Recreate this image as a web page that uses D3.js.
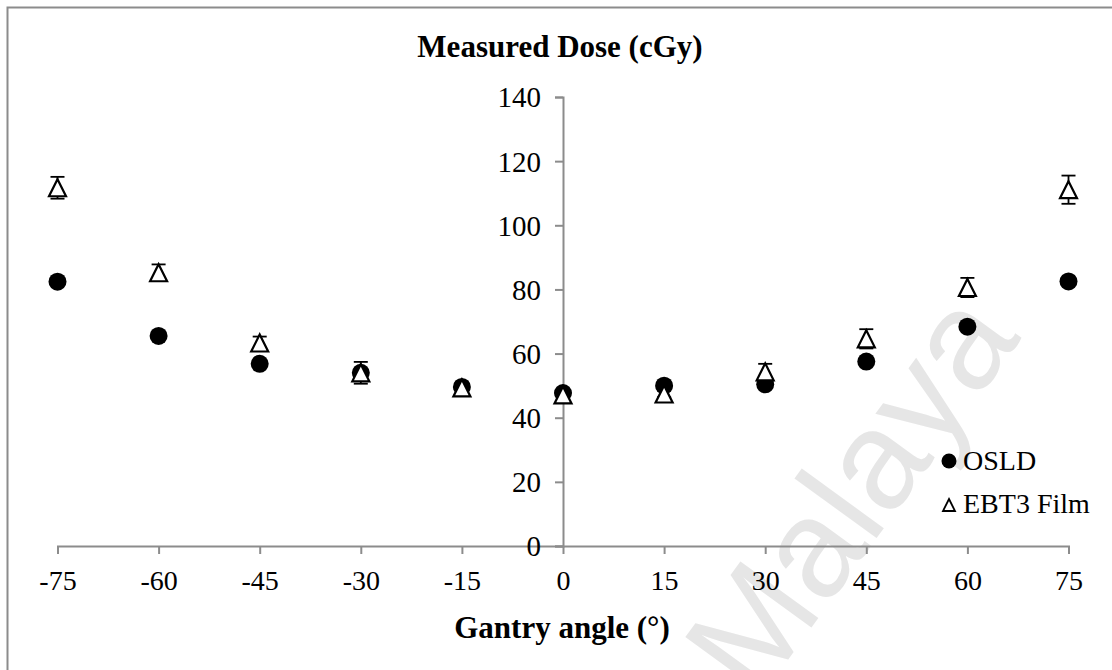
<!DOCTYPE html>
<html>
<head>
<meta charset="utf-8">
<script src="https://cdn.jsdelivr.net/npm/d3@7"></script>
<style>
body{margin:0;background:#fff;}
text{font-family:"Liberation Serif","Times New Roman",serif;}
</style>
</head>
<body>
<div id="chart"></div>
<script>
// gantry angles (x categories) and tick values
var angles = [-75,-60,-45,-30,-15,0,15,30,45,60,75];
var yTicks = [0,20,40,60,80,100,120,140];
// measured dose, cGy
var osld = [82.4,65.5,56.8,54.0,49.6,47.7,50.0,50.4,57.5,68.4,82.5];
var film = [111.7,85.2,63.3,54.0,49.3,47.1,47.4,54.3,64.6,80.6,111.1];
var filmErr = [3.4,2.6,2.0,3.4,1.5,1.5,1.0,2.5,3.0,3.0,4.4];

var W = 1112, H = 670;
var svg = d3.select("#chart").append("svg")
	.attr("width", W)
	.attr("height", H);

// chart frame (only top and left show inside the picture)
svg.append("rect")
	.attr("x", 7.5).attr("y", 7.5)
	.attr("width", 1200).attr("height", 800)
	.attr("fill", "#fff")
	.attr("stroke", "#8c8c8c")
	.attr("stroke-width", 2);

// watermark
svg.append("text")
	.attr("transform", "translate(850,492) rotate(-54)")
	.attr("text-anchor", "middle")
	.attr("dominant-baseline", "central")
	.style("font-family", "'Liberation Sans',Arial,sans-serif")
	.style("font-size", "140px")
	.attr("fill", "#e6e6e6")
	.text("Malaya");

var x = d3.scaleLinear().domain([-75,75]).range([57.5,1068.5]);
var y = d3.scaleLinear().domain([0,140]).range([546,97]);

// x axis at y=0
var xAxis = svg.append("g")
	.attr("transform", "translate(0," + y(0) + ")")
	.call(d3.axisBottom(x).tickValues(angles).tickSize(8).tickPadding(16).tickFormat(function(d){ return String(d); }));
// y axis at x=0
var yAxis = svg.append("g")
	.attr("transform", "translate(" + x(0) + ",0)")
	.call(d3.axisLeft(y).tickValues(yTicks).tickSize(8).tickPadding(14));

[xAxis, yAxis].forEach(function(g){
	g.select(".domain").attr("stroke", "#8c8c8c").attr("stroke-width", 2);
	g.selectAll(".tick line").attr("stroke", "#8c8c8c").attr("stroke-width", 2);
	g.selectAll(".tick text")
		.attr("fill", "#000")
		.style("font-family", "'Liberation Serif','Times New Roman',serif")
		.style("font-size", "28px");
});
yAxis.selectAll(".tick text").attr("dy", "0.34em").style("font-size", "29px");

// titles
svg.append("text")
	.attr("x", 560).attr("y", 57)
	.attr("text-anchor", "middle")
	.style("font-size", "31px")
	.style("font-weight", "bold")
	.text("Measured Dose (cGy)");
svg.append("text")
	.attr("x", 562).attr("y", 638)
	.attr("text-anchor", "middle")
	.style("font-size", "31px")
	.style("font-weight", "bold")
	.text("Gantry angle (°)");

// film error bars
var bars = svg.append("g").attr("stroke", "#000").attr("stroke-width", 1.8);
angles.forEach(function(a, i){
	var lo = y(film[i] - filmErr[i]), hi = y(film[i] + filmErr[i]);
	bars.append("line").attr("x1", x(a)).attr("x2", x(a)).attr("y1", lo).attr("y2", hi);
	bars.append("line").attr("x1", x(a)-7).attr("x2", x(a)+7).attr("y1", lo).attr("y2", lo);
	bars.append("line").attr("x1", x(a)-7).attr("x2", x(a)+7).attr("y1", hi).attr("y2", hi);
});

// OSLD circles
svg.append("g").selectAll("circle")
	.data(angles).enter()
	.append("circle")
	.attr("cx", function(d){ return x(d); })
	.attr("cy", function(d, i){ return y(osld[i]); })
	.attr("r", 9)
	.attr("fill", "#000");

// film triangles
var tri = function(cx, cy, s){
	return "M" + cx + "," + (cy - s*0.5) + "L" + (cx + s*0.5) + "," + (cy + s*0.5) + "L" + (cx - s*0.5) + "," + (cy + s*0.5) + "Z";
};
svg.append("g").selectAll("path")
	.data(angles).enter()
	.append("path")
	.attr("d", function(d, i){ return tri(x(d), y(film[i]), 17); })
	.attr("fill", "#fff")
	.attr("stroke", "#000")
	.attr("stroke-width", 2.2);

// legend
var leg = svg.append("g");
leg.append("circle").attr("cx", 949).attr("cy", 461).attr("r", 7.5).attr("fill", "#000");
leg.append("text").attr("x", 963).attr("y", 470).style("font-size", "28px").text("OSLD");
leg.append("path").attr("d", tri(949, 505, 12)).attr("fill", "#fff").attr("stroke", "#000").attr("stroke-width", 1.8);
leg.append("text").attr("x", 963).attr("y", 513).style("font-size", "28px").text("EBT3 Film");
</script>
</body>
</html>
